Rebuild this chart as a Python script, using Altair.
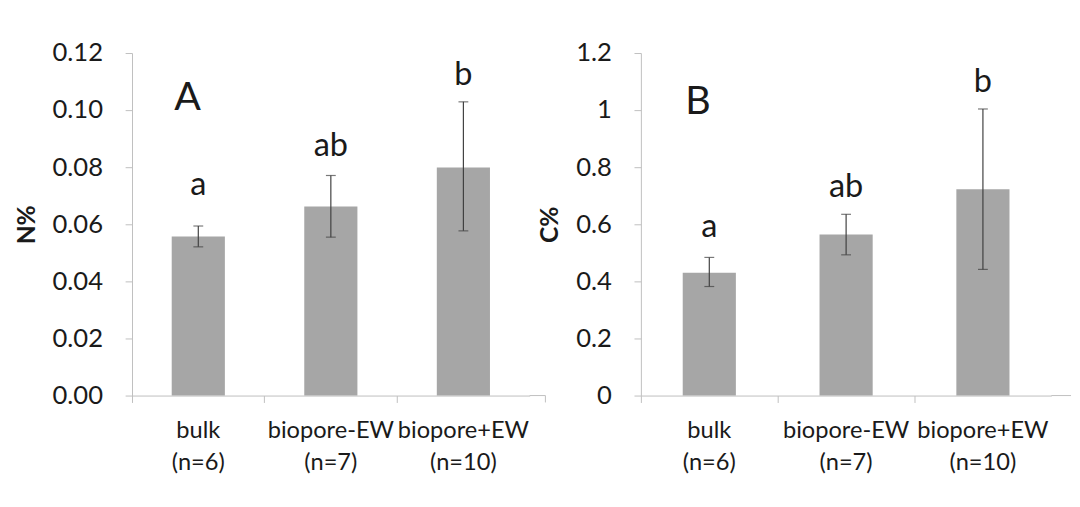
import altair as alt
import pandas as pd

categories = ["bulk", "biopore-EW", "biopore+EW"]
n_labels = ["(n=6)", "(n=7)", "(n=10)"]

n_mean = [0.0557, 0.0662, 0.0799]
n_low = [0.0521, 0.0555, 0.0577]
n_high = [0.0594, 0.0771, 0.1029]
n_letters = ["a", "ab", "b"]
n_letter_y = [0.0701, 0.0839, 0.1087]

c_mean = [0.430, 0.564, 0.723]
c_low = [0.382, 0.493, 0.442]
c_high = [0.484, 0.635, 1.004]
c_letters = ["a", "ab", "b"]
c_letter_y = [0.556, 0.694, 1.064]

n_ticks = [0, 0.02, 0.04, 0.06, 0.08, 0.10, 0.12]
c_ticks = [0, 0.2, 0.4, 0.6, 0.8, 1.0, 1.2]

FONT = "Lato"
AXIS_GREY = "#bfbfbf"
BAR_GREY = "#a6a6a6"
ERR = "#404040"
TXT = "#1a1a1a"
H = 348


def panel(mean, low, high, letters, letter_y, ticks, dom, fmt, ytitle, tag, width, ext, ext_tick, tag_x, tag_y):
    df = pd.DataFrame({
        "cat": [c + "|" + n for c, n in zip(categories, n_labels)],
        "mean": mean, "low": low, "high": high,
        "letter": letters, "ly": letter_y,
    })
    order = list(df["cat"])
    x = alt.X("cat:N", sort=order, scale=alt.Scale(paddingInner=0, paddingOuter=0),
              axis=alt.Axis(title=None, labelExpr="split(datum.value, '|')", labelAngle=0,
                            bandPosition=0, tickSize=7, tickColor=AXIS_GREY, domainColor=AXIS_GREY,
                            labelFont=FONT, labelFontSize=24, labelColor=TXT, labelPadding=17,
                            labelLineHeight=32, labelBaseline="top"))
    y_scale = alt.Scale(domain=dom, nice=False, zero=True)
    base = alt.Chart(df)
    bars = base.mark_bar(color=BAR_GREY, width=54).encode(
        x=x,
        y=alt.Y("mean:Q", scale=y_scale,
                axis=alt.Axis(title=ytitle, values=ticks, format=fmt, grid=False, tickSize=7,
                              tickColor=AXIS_GREY, domainColor=AXIS_GREY, labelFont=FONT,
                              labelFontSize=26, labelColor=TXT, labelPadding=23,
                              titleFont=FONT, titleFontSize=25, titleFontWeight="bold",
                              titleColor=TXT, titlePadding=13)),
    )
    rule = base.mark_rule(color=ERR, strokeWidth=1.2).encode(
        x=alt.X("cat:N", sort=order), y="low:Q", y2="high:Q")
    tick_lo = base.mark_tick(color=ERR, size=10, thickness=1.2).encode(
        x=alt.X("cat:N", sort=order), y="low:Q")
    tick_hi = base.mark_tick(color=ERR, size=10, thickness=1.2).encode(
        x=alt.X("cat:N", sort=order), y="high:Q")
    lett = base.mark_text(font=FONT, fontSize=33, color=TXT, baseline="alphabetic").encode(
        x=alt.X("cat:N", sort=order), y="ly:Q", text="letter:N")
    one = alt.Chart(pd.DataFrame({"tag": [tag]}))
    tagm = one.mark_text(font=FONT, fontSize=40, color=TXT, align="left", baseline="alphabetic").encode(
        x=alt.value(tag_x), y=alt.value(tag_y), text="tag:N")
    extl = one.mark_rule(color=AXIS_GREY).encode(
        x=alt.value(width), x2=alt.value(width + ext), y=alt.value(H))
    layers = [bars, rule, tick_lo, tick_hi, lett, tagm, extl]
    if ext_tick:
        extt = one.mark_rule(color=AXIS_GREY).encode(
            x=alt.value(width + ext), y=alt.value(H), y2=alt.value(H + 7))
        layers.append(extt)
    return alt.layer(*layers).properties(width=width, height=H)


pa = panel(n_mean, n_low, n_high, n_letters, n_letter_y, n_ticks, [0, 0.12], ".2f", "N%", "A",
           404, 16, True, 43, 58)
pb = panel(c_mean, c_low, c_high, c_letters, c_letter_y, c_ticks, [0, 1.2], "~g", "C%", "B",
           417, 20, False, 45, 62)

chart = alt.hconcat(pa, pb, spacing=113, bounds="flush").properties(
    padding={"left": 6, "top": 29, "right": 0, "bottom": 0},
    background="white",
).configure_view(stroke=None)

chart.save("out.html", embed_options={"renderer": "svg", "actions": False})
